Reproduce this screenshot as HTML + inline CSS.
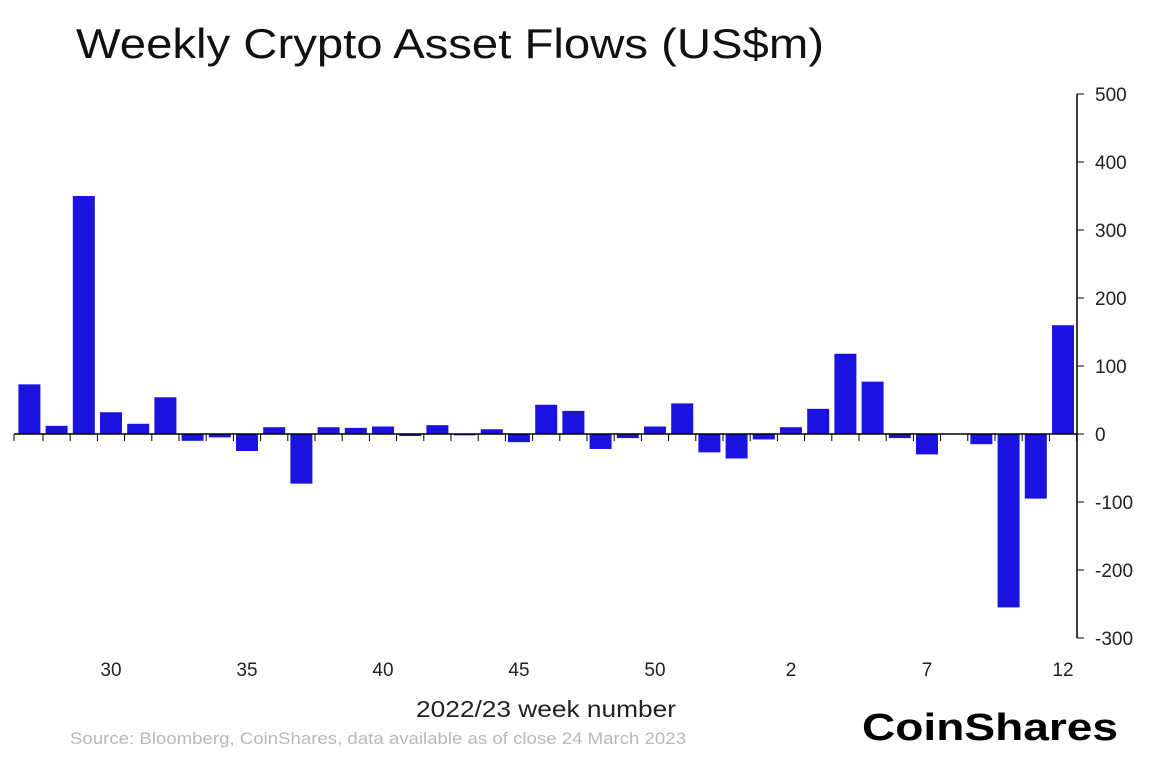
<!DOCTYPE html>
<html><head><meta charset="utf-8"><style>
body{margin:0;background:#fff;font-family:"Liberation Sans",sans-serif;}
svg text{font-family:"Liberation Sans",sans-serif;}
</style></head><body>
<svg id="c" width="1154" height="768" xmlns="http://www.w3.org/2000/svg">
<text x="76" y="58" font-size="42" fill="#111" textLength="748" lengthAdjust="spacingAndGlyphs">Weekly Crypto Asset Flows (US$m)</text>
<text x="416" y="717" font-size="23" fill="#222" textLength="260" lengthAdjust="spacingAndGlyphs">2022/23 week number</text>
<text x="70" y="744" font-size="17" fill="#b8b8b8" textLength="616" lengthAdjust="spacingAndGlyphs">Source: Bloomberg, CoinShares, data available as of close 24 March 2023</text>
<text x="862" y="740" font-size="38" font-weight="bold" fill="#000" textLength="256" lengthAdjust="spacingAndGlyphs">CoinShares</text>
<g id="bars"></g><g id="axes"></g>
</svg>
<script>
const values=[73,12,350,32,15,54,-10,-5,-25,10,-73,10,9,11,-3,13,-2,7,-12,43,34,-22,-6,11,45,-27,-36,-8,10,37,118,77,-6,-30,0,-15,-255,-95,160];
const xLabels=["30","35","40","45","50","2","7","12"];
const xLabelIdx=[3,8,13,18,23,28,33,38];
const yTicks=[500,400,300,200,100,0,-100,-200,-300];
const NS="http://www.w3.org/2000/svg";
const y=v=>434-v*0.68;
const x=i=>29.4+i*27.2;
const bars=document.getElementById('bars'),axes=document.getElementById('axes');
function mk(t,a,p){const e=document.createElementNS(NS,t);for(const k in a)e.setAttribute(k,a[k]);p.appendChild(e);return e;}
values.forEach((v,i)=>{
 const r=mk('rect',{x:x(i)-11,y:Math.min(y(v),y(0)),width:22,height:Math.abs(y(v)-y(0)),fill:'#1b12e0'},bars);
 
 
});
const zl=mk('line',{x1:14,x2:1077,y1:y(0),y2:y(0),stroke:'#000','stroke-width':1.5},axes);


for(let i=0;i<values.length;i++){mk('line',{x1:x(i)+13.6,x2:x(i)+13.6,y1:y(0),y2:y(0)+7,stroke:'#000'},axes);}
mk('line',{x1:14,x2:14,y1:y(0),y2:y(0)+7,stroke:'#000'},axes);
const ya=mk('line',{x1:1077,x2:1077,y1:y(500),y2:y(-300),stroke:'#000','stroke-width':1.5},axes);


yTicks.forEach(t=>{
 mk('line',{x1:1077,x2:1084,y1:y(t),y2:y(t),stroke:'#000'},axes);
 const tx=mk('text',{x:1095,y:y(t)+7,'font-size':19,fill:'#222'},axes);
 tx.textContent=t;
 
 
});
xLabels.forEach((l,k)=>{
 const tx=mk('text',{x:x(xLabelIdx[k]),y:676,'font-size':19,fill:'#222','text-anchor':'middle'},axes);
 tx.textContent=l;
 
 
});
</script>
</body></html>
